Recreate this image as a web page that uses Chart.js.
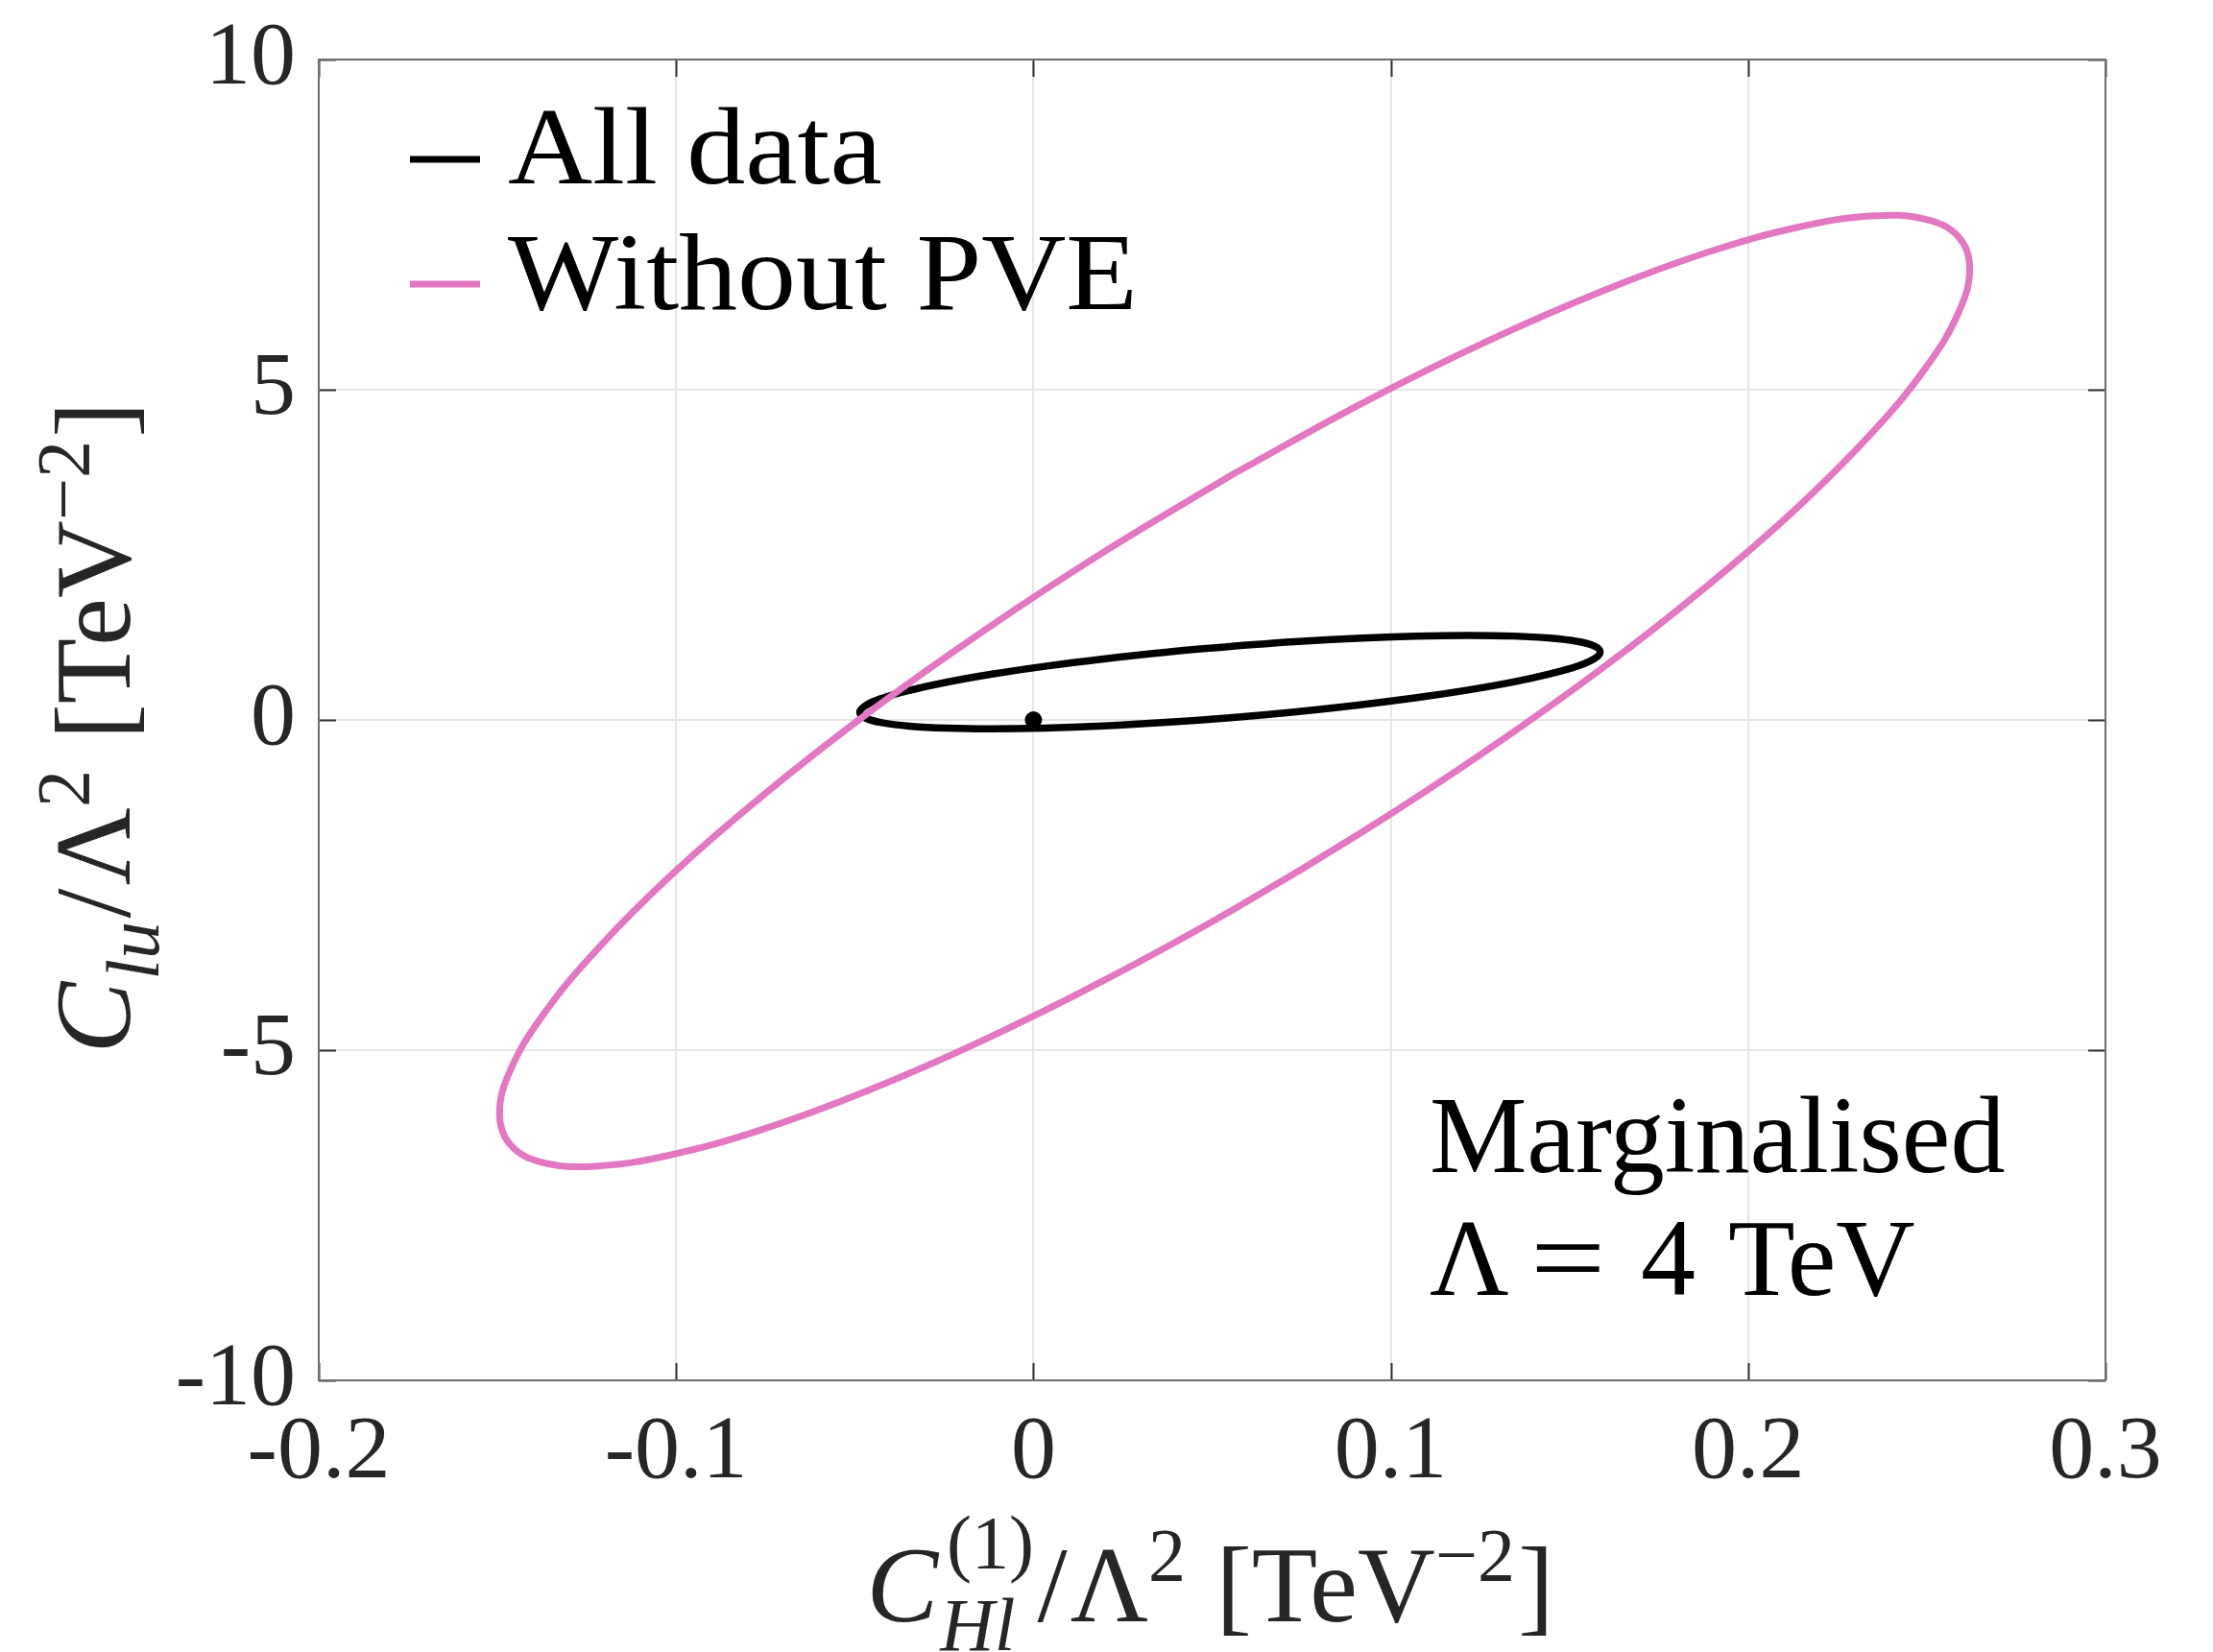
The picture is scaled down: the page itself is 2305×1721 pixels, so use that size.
<!DOCTYPE html>
<html>
<head>
<meta charset="utf-8">
<script src="https://cdn.jsdelivr.net/npm/chart.js@4/dist/chart.umd.min.js"></script>
<style>
html,body{margin:0;padding:0;background:#ffffff;}
canvas{display:block;}
</style>
</head>
<body>
<canvas id="c" width="2305" height="1721"></canvas>
<script>
// ---------- data ----------
const xTickValues = [-0.2, -0.1, 0, 0.1, 0.2, 0.3];
const xTickLabels = ['-0.2', '-0.1', '0', '0.1', '0.2', '0.3'];
const yTickValues = [-10, -5, 0, 5, 10];
const yTickLabels = ['-10', '-5', '0', '5', '10'];

const seriesNames = ['All data', 'Without PVE'];

// "All data" 68% contour (black)
const allDataX = [0.0550, 0.0370, 0.0196, 0.0032, -0.0116, -0.0244, -0.0347, -0.0424, -0.0470, -0.0486,
  -0.0470, -0.0424, -0.0347, -0.0244, -0.0116, 0.0032, 0.0196, 0.0370, 0.0550, 0.0730,
  0.0904, 0.1068, 0.1216, 0.1344, 0.1447, 0.1524, 0.1570, 0.1586, 0.1570, 0.1524,
  0.1447, 0.1344, 0.1216, 0.1068, 0.0904, 0.0730, 0.0550];
const allDataY = [1.113, 1.026, 0.924, 0.812, 0.693, 0.570, 0.447, 0.328, 0.217, 0.116,
  0.029, -0.041, -0.093, -0.124, -0.134, -0.123, -0.091, -0.038, 0.033, 0.121,
  0.222, 0.334, 0.453, 0.576, 0.699, 0.818, 0.929, 1.030, 1.117, 1.187,
  1.239, 1.270, 1.280, 1.269, 1.237, 1.184, 1.113];

// "Without PVE" contour (pink)
const withoutPveX = [0.0563, 0.0206, -0.0140, -0.0466, -0.0759, -0.1013, -0.1218, -0.1370, -0.1463, -0.1494,
  -0.1463, -0.1370, -0.1218, -0.1013, -0.0759, -0.0466, -0.0140, 0.0206, 0.0563, 0.0920,
  0.1266, 0.1592, 0.1885, 0.2139, 0.2344, 0.2496, 0.2589, 0.2620, 0.2589, 0.2496,
  0.2344, 0.2139, 0.1885, 0.1592, 0.1266, 0.0920, 0.0563];
const withoutPveY = [3.735, 2.574, 1.347, 0.092, -1.152, -2.346, -3.456, -4.449, -5.294, -5.963,
  -6.438, -6.705, -6.754, -6.584, -6.202, -5.618, -4.849, -3.920, -2.859, -1.698,
  -0.471, 0.784, 2.028, 3.222, 4.332, 5.325, 6.170, 6.839, 7.314, 7.581,
  7.630, 7.460, 7.078, 6.494, 5.725, 4.796, 3.735];

// best-fit / SM point
const bestFitX = [0];
const bestFitY = [0];

const noteLine1 = 'Marginalised';
const noteLine2Parts = ['\u039B', '=', '4', 'TeV'];

// ---------- styling ----------
const PINK = '#E377C2';
const SERIF = '"Liberation Serif", "Times New Roman", serif';
const TEXT_DARK = '#262626';

function toPoints(xs, ys) { return xs.map((x, i) => ({ x: x, y: ys[i] })); }
function labelFor(values, labels, v) {
  for (let i = 0; i < values.length; i++) if (Math.abs(values[i] - v) < 1e-9) return labels[i];
  return '';
}
function stretchText(ctx, text, x, y, sx) {
  ctx.save();
  ctx.translate(x, y);
  ctx.scale(sx, 1);
  ctx.fillText(text, 0, 0);
  ctx.restore();
}

// math-like label made of runs (normal text, superscripts, subscripts)
function layoutRuns(ctx, runs, F) {
  let w = 0;
  const items = [];
  for (const r of runs) {
    if (r.t !== undefined) {
      const font = (r.it ? 'italic ' : '') + F + 'px ' + SERIF;
      ctx.font = font;
      const tw = ctx.measureText(r.t).width;
      items.push({ t: r.t, font: font, x: w + (r.pre || 0) * F, dy: 0 });
      w += tw + (r.pre || 0) * F + (r.post || 0) * F;
    } else {
      const s = Math.round(F * 0.7);
      let adv = 0;
      if (r.sup !== undefined) {
        const font = s + 'px ' + SERIF;
        ctx.font = font;
        const tw = ctx.measureText(r.sup).width;
        const off = r.supOff || 0;
        items.push({ t: r.sup, font: font, x: w + off * F, dy: -(r.supUp || 0.38) * F });
        adv = Math.max(adv, tw + off * F);
      }
      if (r.sub !== undefined) {
        const font = 'italic ' + s + 'px ' + SERIF;
        ctx.font = font;
        const tw = ctx.measureText(r.sub).width;
        items.push({ t: r.sub, font: font, x: w, dy: 0.27 * F });
        adv = Math.max(adv, tw);
      }
      w += adv + 0.03 * F;
    }
  }
  return { items: items, width: w };
}
function drawRuns(ctx, runs, F, centerX, baseY) {
  const L = layoutRuns(ctx, runs, F);
  const x0 = centerX - L.width / 2;
  ctx.textAlign = 'left';
  ctx.textBaseline = 'alphabetic';
  for (const it of L.items) {
    ctx.font = it.font;
    ctx.fillText(it.t, x0 + it.x, baseY + it.dy);
  }
}

const xTitleRuns = [
  { t: 'C', it: true, post: 0.02 },
  { sup: '(1)', sub: 'Hl', supUp: 0.5, supOff: 0.06 },
  { t: '/', post: 0.03 }, { t: '\u039B' }, { sup: '2' },
  { t: ' [' }, { t: 'TeV' }, { sup: '\u22122' }, { t: ']' }
];
const yTitleRuns = [
  { t: 'C', it: true, post: 0.02 },
  { sub: 'lu' },
  { t: '/', post: 0.03 }, { t: '\u039B' }, { sup: '2' },
  { t: ' [' }, { t: 'TeV' }, { sup: '\u22122' }, { t: ']' }
];

// ---------- plugins ----------
const axesBox = {
  id: 'axesBox',
  beforeDatasetsDraw(chart) {
    const { ctx, chartArea: a, scales } = chart;
    const xs = scales.x, ys = scales.y;
    const L = 18;
    ctx.save();
    ctx.strokeStyle = '#303030';
    ctx.lineWidth = 2;
    ctx.beginPath();
    for (const v of xTickValues) {
      const p = Math.round(xs.getPixelForValue(v)) + 0.5;
      ctx.moveTo(p, a.bottom); ctx.lineTo(p, a.bottom - L);
      ctx.moveTo(p, a.top); ctx.lineTo(p, a.top + L);
    }
    for (const v of yTickValues) {
      const p = Math.round(ys.getPixelForValue(v)) + 0.5;
      ctx.moveTo(a.left, p); ctx.lineTo(a.left + L, p);
      ctx.moveTo(a.right, p); ctx.lineTo(a.right - L, p);
    }
    ctx.stroke();
    ctx.strokeStyle = '#6e6e6e';
    ctx.lineWidth = 2;
    ctx.strokeRect(a.left, a.top, a.right - a.left, a.bottom - a.top);
    ctx.restore();
  }
};

const texts = {
  id: 'texts',
  afterDraw(chart) {
    const { ctx, chartArea: a } = chart;
    ctx.save();
    // legend
    const legendColors = ['#000000', PINK];
    const legendY = [166, 296];
    const textBase = [191, 322];
    ctx.lineWidth = 7;
    ctx.textAlign = 'left';
    ctx.textBaseline = 'alphabetic';
    for (let i = 0; i < 2; i++) {
      ctx.strokeStyle = legendColors[i];
      ctx.beginPath();
      ctx.moveTo(427, legendY[i]);
      ctx.lineTo(500, legendY[i]);
      ctx.stroke();
      ctx.fillStyle = '#000';
      ctx.font = '114px ' + SERIF;
      stretchText(ctx, seriesNames[i], 529, textBase[i], 1.07);
    }
    // annotation
    ctx.font = '114px ' + SERIF;
    ctx.fillText(noteLine1, 1489, 1221);
    const partX = [1489, 1594, 1709, 1800];
    const partS = [1, 1.22, 1, 1];
    for (let i = 0; i < noteLine2Parts.length; i++) {
      stretchText(ctx, noteLine2Parts[i], partX[i], 1349, partS[i]);
    }

    // axis titles
    ctx.fillStyle = TEXT_DARK;
    drawRuns(ctx, xTitleRuns, 112, (a.left + a.right) / 2 - 2, 1689);
    ctx.save();
    ctx.translate(135, (a.top + a.bottom) / 2 + 8);
    ctx.rotate(-Math.PI / 2);
    drawRuns(ctx, yTitleRuns, 112, 0, 0);
    ctx.restore();
    ctx.restore();
  }
};

// ---------- chart ----------
new Chart(document.getElementById('c').getContext('2d'), {
  type: 'scatter',
  data: {
    datasets: [
      {
        label: seriesNames[1],
        data: toPoints(withoutPveX, withoutPveY),
        showLine: true,
        borderColor: PINK,
        backgroundColor: PINK,
        borderWidth: 7,
        pointRadius: 0,
        pointHoverRadius: 0,
        tension: 0.4,
        fill: false,
        order: 0
      },
      {
        label: seriesNames[0],
        data: toPoints(allDataX, allDataY),
        showLine: true,
        borderColor: '#000000',
        backgroundColor: '#000000',
        borderWidth: 7.5,
        pointRadius: 0,
        pointHoverRadius: 0,
        tension: 0.4,
        fill: false,
        order: 1
      },
      {
        label: 'SM',
        data: toPoints(bestFitX, bestFitY),
        showLine: false,
        pointRadius: 9,
        pointHoverRadius: 9,
        backgroundColor: '#000000',
        borderWidth: 0,
        order: -1
      }
    ]
  },
  options: {
    responsive: false,
    animation: false,
    devicePixelRatio: 1,
    layout: { padding: { left: 0, top: 62, right: 112, bottom: 0 } },
    plugins: { legend: { display: false }, tooltip: { enabled: false } },
    events: [],
    scales: {
      x: {
        type: 'linear',
        position: 'bottom',
        min: -0.2,
        max: 0.3,
        afterBuildTicks: (s) => { s.ticks = xTickValues.map(v => ({ value: v })); },
        afterFit: (s) => { s.height = 283; s.paddingLeft = 0; s.paddingRight = 0; },
        grid: { color: '#e6e6e6', lineWidth: 2, drawTicks: false },
        border: { display: false },
        ticks: {
          autoSkip: false, maxRotation: 0, minRotation: 0,
          padding: 20,
          color: TEXT_DARK,
          font: { family: SERIF, size: 94 },
          callback: (v) => labelFor(xTickValues, xTickLabels, v)
        }
      },
      y: {
        type: 'linear',
        position: 'left',
        min: -10,
        max: 10,
        afterBuildTicks: (s) => { s.ticks = yTickValues.map(v => ({ value: v })); },
        afterFit: (s) => { s.width = 332; s.paddingTop = 0; s.paddingBottom = 0; },
        grid: { color: '#e6e6e6', lineWidth: 2, drawTicks: false },
        border: { display: false },
        ticks: {
          autoSkip: false,
          padding: 24,
          color: TEXT_DARK,
          font: { family: SERIF, size: 94 },
          callback: (v) => labelFor(yTickValues, yTickLabels, v)
        }
      }
    }
  },
  plugins: [axesBox, texts]
});
</script>
</body>
</html>
